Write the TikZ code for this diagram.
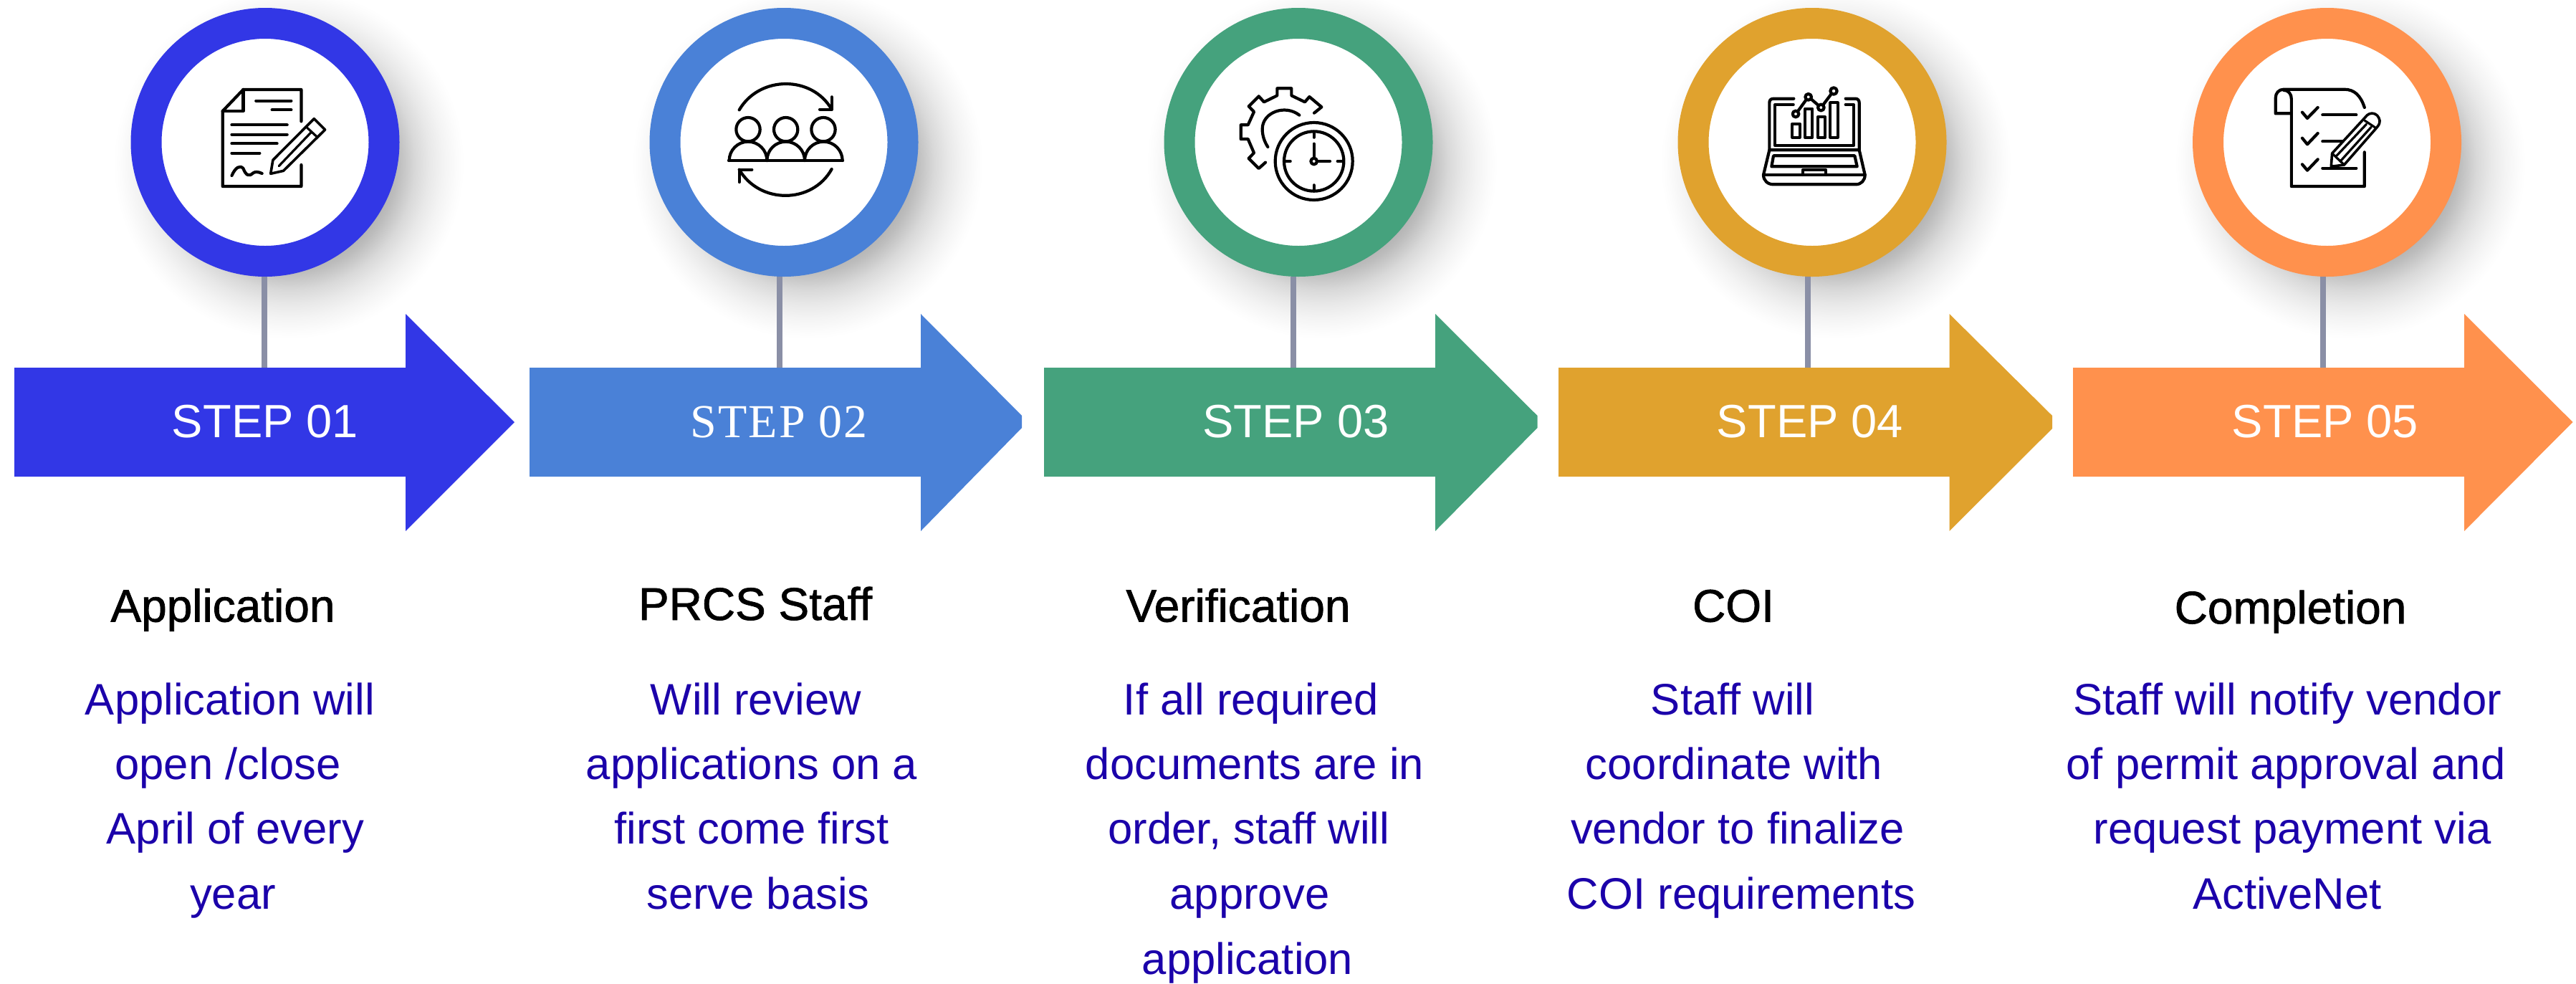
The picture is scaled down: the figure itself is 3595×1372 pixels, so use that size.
\documentclass[tikz,border=0pt]{standalone}
\usepackage{fontspec}
\setmainfont{Liberation Sans}
\newfontfamily\titlefont[FakeBold=1.2]{Liberation Sans}
\newfontfamily\serifstep[LetterSpace=3]{Liberation Serif}
\definecolor{cone}{HTML}{3237E6}
\definecolor{ctwo}{HTML}{4A81D7}
\definecolor{cthree}{HTML}{45A27D}
\definecolor{cfour}{HTML}{E0A22E}
\definecolor{cfive}{HTML}{FF914D}
\definecolor{stemc}{HTML}{8A8FA6}
\definecolor{bodyc}{HTML}{1B00AA}
\pgfdeclareradialshading{softshadow}{\pgfpoint{0bp}{0bp}}{%
  color(0bp)=(black!45);
  color(13bp)=(black!34);
  color(15.5bp)=(black!26);
  color(18bp)=(black!15);
  color(20bp)=(black!9);
  color(22bp)=(black!4.5);
  color(24bp)=(black!1.2);
  color(25bp)=(white);
  color(50bp)=(white)}
\tikzset{
  ringnode/.style={circle,fill=white,line width=21.5pt,minimum size=166pt,inner sep=0pt},
  stem/.style={draw=stemc,line width=4pt},
  shadowdisc/.style={shading=softshadow,draw=none},
  steptext/.style={text=white,anchor=base,inner sep=0pt,font=\fontsize{32.5}{38}\selectfont},
  titletext/.style={text=black,anchor=base,inner sep=0pt,font=\titlefont\fontsize{32}{38}\selectfont},
  bodytext/.style={text=bodyc,anchor=base,inner sep=0pt,font=\fontsize{30.8}{36}\selectfont},
  iconline/.style={draw=black,line width=2.1pt,line cap=round,line join=round},
}
\newcommand\bodyln[4]{\node[bodytext] (#1) at (#2,#3) {#4};}
\begin{document}
\begin{tikzpicture}[x=0.5pt,y=-0.5pt]
\useasboundingbox (0,0) rectangle (3595,1372);
% soft shadows
\shade[shadowdisc] (403,228) circle[radius=245];
\shade[shadowdisc] (1127,228) circle[radius=245];
\shade[shadowdisc] (1845,228) circle[radius=245];
\shade[shadowdisc] (2562,228) circle[radius=245];
\shade[shadowdisc] (3280,228) circle[radius=245];
% stem ends on the arrows
\coordinate (s1) at (369,513);
\coordinate (s2) at (1088,513);
\coordinate (s3) at (1805,513);
\coordinate (s4) at (2523,513);
\coordinate (s5) at (3242,513);
% rings
\node[ringnode,draw=cone] (ring1) at (370,198.5) {};
\node[ringnode,draw=ctwo] (ring2) at (1094,198.5) {};
\node[ringnode,draw=cthree] (ring3) at (1812,198.5) {};
\node[ringnode,draw=cfour] (ring4) at (2529,198.5) {};
\node[ringnode,draw=cfive] (ring5) at (3247.5,198.5) {};
\draw[stem] (ring1.south -| s1) -- (s1);
\draw[stem] (ring2.south -| s2) -- (s2);
\draw[stem] (ring3.south -| s3) -- (s3);
\draw[stem] (ring4.south -| s4) -- (s4);
\draw[stem] (ring5.south -| s5) -- (s5);
% arrows
\fill[cone] (20,513) -- (566,513) -- (566,438) -- (718,589) -- (566,741) -- (566,665) -- (20,665) -- cycle;
\fill[ctwo] (739,513) -- (1285,513) -- (1285,438) -- (1426,580) -- (1426,597) -- (1285,741) -- (1285,665) -- (739,665) -- cycle;
\fill[cthree] (1457,513) -- (2003,513) -- (2003,438) -- (2145.5,580) -- (2145.5,597) -- (2003,741) -- (2003,665) -- (1457,665) -- cycle;
\fill[cfour] (2175,513) -- (2720.5,513) -- (2720.5,438) -- (2864,580) -- (2864,598) -- (2720.5,741) -- (2720.5,665) -- (2175,665) -- cycle;
\fill[cfive] (2893,513) -- (3439,513) -- (3439,438) -- (3590.5,589) -- (3439,741) -- (3439,665) -- (2893,665) -- cycle;
% step labels
\node[steptext] (st1) at (370,610) {STEP 01};
\node[steptext,font=\serifstep\fontsize{33}{38}\selectfont] (st2) at (1087,610) {STEP 02};
\node[steptext] (st3) at (1808.5,610) {STEP 03};
\node[steptext] (st4) at (2526,610) {STEP 04};
\node[steptext] (st5) at (3245,610) {STEP 05};
% titles
\node[titletext] (ti1) at (311,867.5) {Application};
\node[titletext] (ti2) at (1054,865) {PRCS Staff};
\node[titletext] (ti3) at (1728,867.5) {Verification};
\node[titletext] (ti4) at (2419,867.5) {COI};
\node[titletext] (ti5) at (3196.5,870) {Completion};
% body text
\bodyln{a1}{321}{997}{Application will}
\bodyln{a2}{318}{1087.5}{open /close}
\bodyln{a3}{328.5}{1177.5}{April of every}
\bodyln{a4}{325}{1268.5}{year}
\bodyln{b1}{1055}{997}{Will review}
\bodyln{b2}{1049}{1087.5}{applications on a}
\bodyln{b3}{1049}{1177.5}{first come first}
\bodyln{b4}{1058}{1268.5}{serve basis}
\bodyln{c1}{1746}{997}{If all required}
\bodyln{c2}{1751}{1087.5}{documents are in}
\bodyln{c3}{1743}{1177.5}{order, staff will}
\bodyln{c4}{1744}{1268.5}{approve}
\bodyln{c5}{1741}{1359}{application}
\bodyln{d1}{2418}{997}{Staff will}
\bodyln{d2}{2420}{1087.5}{coordinate with}
\bodyln{d3}{2425}{1177.5}{vendor to finalize}
\bodyln{d4}{2430}{1268.5}{COI requirements}
\bodyln{e1}{3192}{997}{Staff will notify vendor}
\bodyln{e2}{3190}{1087.5}{of permit approval and}
\bodyln{e3}{3199}{1177.5}{request payment via}
\bodyln{e4}{3192}{1268.5}{ActiveNet}
% icon 1: document and pencil
\begin{scope}[shift={(150,0)},x=0.3189pt,y=-0.16667pt]
\draw[iconline] (424,508) -- (424,375) -- (297,375) -- (252,465) -- (252,780) -- (424,780) -- (424,690);
\draw[iconline] (297,375) -- (297,465) -- (252,465);
\draw[iconline] (325,422) -- (402,422);
\draw[iconline] (360,460) -- (402,460);
\draw[iconline] (272,523) -- (393,523);
\draw[iconline] (272,563) -- (393,563);
\draw[iconline] (272,601) -- (371,601);
\draw[iconline] (272,641) -- (333,641);
\draw[iconline] (272,735) .. controls (280,700) and (290,690) .. (297,705) .. controls (303,735) and (310,740) .. (318,725) .. controls (322,718) and (330,718) .. (338,726);
\draw[iconline,line width=1.8pt] (452,497) -- (476,543) -- (385,715) -- (357,727) -- (362,670) -- cycle;
\draw[iconline,line width=1.6pt] (437,535) -- (458,572);
\draw[iconline,line width=1.6pt] (445,555) -- (375,695);
\end{scope}
% icon 2: people and cycle
\begin{scope}[shift={(950,110)},x=0.16667pt,y=-0.16667pt]
\draw[iconline] (282,212) circle[radius=50];
\draw[iconline] (440,212) circle[radius=50];
\draw[iconline] (597,212) circle[radius=50];
\draw[iconline] (201,342) -- (678,342);
\draw[iconline] (203,342) arc[start angle=180,end angle=360,radius=79];
\draw[iconline] (361,342) arc[start angle=180,end angle=360,radius=79];
\draw[iconline] (519,342) arc[start angle=180,end angle=360,radius=79];
\draw[iconline] (245,130) .. controls (330,-15) and (550,-15) .. (632,128);
\draw[iconline] (632,76) -- (632,128) -- (582,128);
\draw[iconline] (632,378) .. controls (550,525) and (330,525) .. (245,380);
\draw[iconline] (245,432) -- (245,380) -- (298,380);
\end{scope}
% icon 3: gear and clock
\begin{scope}[shift={(1710,110)},x=0.16667pt,y=-0.16667pt]
\draw[iconline] (371,345) circle[radius=162];
\draw[iconline] (371,345) circle[radius=125];
\draw[iconline] (371,345) circle[radius=13];
\draw[iconline] (371,230) -- (371,245);
\draw[iconline] (371,445) -- (371,462);
\draw[iconline] (250,345) -- (272,345);
\draw[iconline] (470,345) -- (492,345);
\draw[iconline] (371,272) -- (371,332);
\draw[iconline] (384,345) -- (438,345);
\draw[iconline] (372,143) -- (403,118) -- (352,75) -- (333,97) -- (277,70) -- (277,40) -- (217,40) -- (217,70) -- (162,97) -- (140,73) -- (98,115) -- (120,138) -- (95,193) -- (65,193) -- (65,252) -- (95,252) -- (120,310) -- (98,333) -- (140,375) -- (168,350);
\draw[iconline] (310,152) .. controls (250,105) and (155,140) .. (155,210) .. controls (155,240) and (165,265) .. (178,285);
\end{scope}
% icon 4: laptop and chart
\begin{scope}[shift={(2400,100)},x=0.16667pt,y=-0.16667pt]
\draw[iconline] (310,113) -- (225,113) .. controls (213,113) and (208,120) .. (208,130) -- (208,328) -- (584,328) -- (584,130) .. controls (584,120) and (578,113) .. (568,113) -- (527,113);
\draw[iconline] (308,138) -- (232,138) -- (232,310) -- (560,310) -- (560,138) -- (527,138);
\draw[iconline] (208,328) -- (183,432) .. controls (183,455) and (200,472) .. (225,472) -- (570,472) .. controls (592,472) and (608,455) .. (608,432) -- (584,328);
\draw[iconline] (183,432) -- (608,432);
\draw[iconline] (225,352) -- (565,352) -- (575,397) -- (217,397) -- cycle;
\draw[iconline] (347,432) -- (347,412) -- (445,412) -- (445,432);
\draw[iconline] (304,218) rectangle (335,275);
\draw[iconline] (357,155) rectangle (388,275);
\draw[iconline] (410,190) rectangle (441,275);
\draw[iconline] (463,130) rectangle (494,275);
\draw[iconline] (318,177) circle[radius=13];
\draw[iconline] (371,106) circle[radius=13];
\draw[iconline] (424,150) circle[radius=13];
\draw[iconline] (477,81) circle[radius=14];
\draw[iconline] (326,167) -- (363,116);
\draw[iconline] (382,114) -- (413,141);
\draw[iconline] (432,140) -- (468,92);
\end{scope}
% icon 5: checklist and pencil
\begin{scope}[shift={(2900,0)},x=0.2216pt,y=-0.16667pt]
\draw[iconline] (902,450) .. controls (890,400) and (870,374) .. (838,374) -- (648,374) .. controls (632,374) and (622,390) .. (622,410) -- (622,475) -- (672,475);
\draw[iconline] (648,378) .. controls (664,378) and (672,395) .. (672,415) -- (672,780) -- (902,780) -- (902,637);
\draw[iconline] (706,470) -- (722,495) -- (755,450);
\draw[iconline] (706,578) -- (722,604) -- (755,558);
\draw[iconline] (706,688) -- (722,713) -- (755,667);
\draw[iconline] (770,481) -- (876,481);
\draw[iconline] (770,592) -- (835,592);
\draw[iconline] (770,704) -- (876,704);
\draw[iconline,fill=white,line width=1.8pt] (800,642) -- (905,490) .. controls (918,465) and (945,470) .. (950,505) .. controls (950,520) and (945,528) .. (940,535) -- (838,690) -- (797,697) -- cycle;
\draw[iconline,line width=1.6pt] (800,642) -- (838,690);
\draw[iconline,line width=1.6pt] (903,505) -- (937,535);
\draw[iconline,line width=1.6pt] (908,520) -- (812,655);
\draw[iconline,line width=1.6pt] (923,532) -- (828,672);
\end{scope}
\end{tikzpicture}
\end{document}
